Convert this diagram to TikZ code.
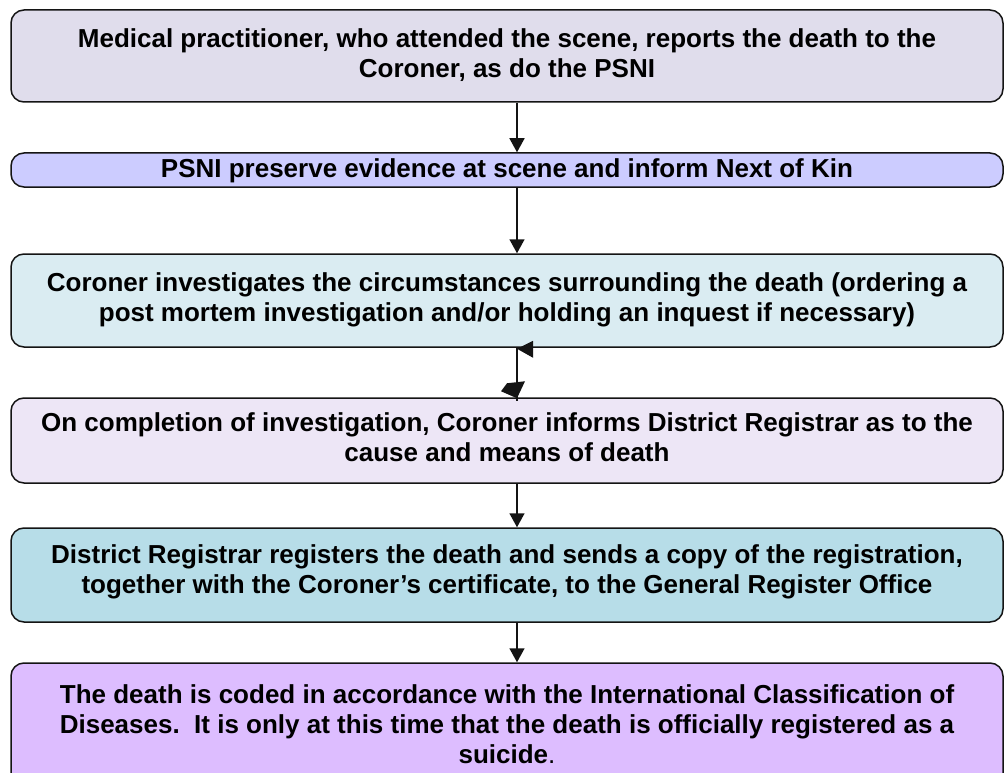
\documentclass[tikz,border=0pt]{standalone}
\usepackage{fontspec}
\setmainfont{Liberation Sans}
\usetikzlibrary{arrows.meta}
\definecolor{cA}{RGB}{224,221,236}
\definecolor{cB}{RGB}{204,204,255}
\definecolor{cC}{RGB}{218,236,242}
\definecolor{cD}{RGB}{237,230,246}
\definecolor{cE}{RGB}{183,221,232}
\definecolor{cF}{RGB}{221,189,255}
\definecolor{edge}{RGB}{20,20,20}
\tikzset{
  box/.style={draw=edge, line width=1.5pt, rounded corners=13pt, inner sep=0pt},
  txt/.style={anchor=north, align=center, inner sep=0pt, font=\fontsize{26}{30}\selectfont\bfseries},
  arr/.style={draw=edge, line width=1.5pt, -{Triangle[width=15pt,length=14pt]}}
}
\begin{document}
\begin{tikzpicture}[x=1pt,y=-1pt]
\useasboundingbox (0,0) rectangle (1004,773);
\clip (0,0) rectangle (1004,773);
\fill[white] (0,0) rectangle (1004,773);
\coordinate (ax) at (517,0);
% boxes
\node[box, fill=cA, minimum width=992pt, minimum height=92pt] (b1) at (507,56) {};
\node[box, fill=cB, minimum width=992pt, minimum height=34pt] (b2) at (507,170) {};
\node[box, fill=cC, minimum width=992pt, minimum height=93pt] (b3) at (507,300.5) {};
\node[box, fill=cD, minimum width=992pt, minimum height=85pt] (b4) at (507,440.5) {};
\node[box, fill=cE, minimum width=992pt, minimum height=94pt] (b5) at (507,575) {};
\node[box, fill=cF, minimum width=992pt, minimum height=140pt] (b6) at (507,733) {};
% texts
\node[txt] (t1) at (507,28) {Medical practitioner, who attended the scene, reports the death to the\\Coroner, as do the PSNI};
\node[txt] (t2) at (507,158) {PSNI preserve evidence at scene and inform Next of Kin};
\node[txt] (t3) at (507,272) {Coroner investigates the circumstances surrounding the death (ordering a\\post mortem investigation and/or holding an inquest if necessary)};
\node[txt] (t4) at (507,412) {On completion of investigation, Coroner informs District Registrar as to the\\cause and means of death};
\node[txt] (t5) at (507,544) {District Registrar registers the death and sends a copy of the registration,\\together with the Coroner’s certificate, to the General Register Office};
\node[txt] (t6) at (507,684) {The death is coded in accordance with the International Classification of\\Diseases.\ \ It is only at this time that the death is officially registered as a\\suicide{\mdseries.}};
% connectors
\draw[arr] (b1.south -| ax) -- (b2.north -| ax);
\draw[arr] (b2.south -| ax) -- (b3.north -| ax);
\draw[arr] (b4.south -| ax) -- (b5.north -| ax);
\draw[arr] (b5.south -| ax) -- (b6.north -| ax);
% odd connector between box 3 and box 4
\draw[draw=edge, line width=1.5pt] (b3.south -| ax) -- ([yshift=-4pt]b4.north -| ax);
\fill[edge] ([yshift=-1pt]b3.south -| ax) -- ++(16,-8) -- ++(0,17) -- cycle;
\fill[edge] ([yshift=-1pt]b4.north -| ax) -- ++(-16,-7) -- ++(6,-8) -- ++(18,-2) -- cycle;
\end{tikzpicture}
\end{document}
